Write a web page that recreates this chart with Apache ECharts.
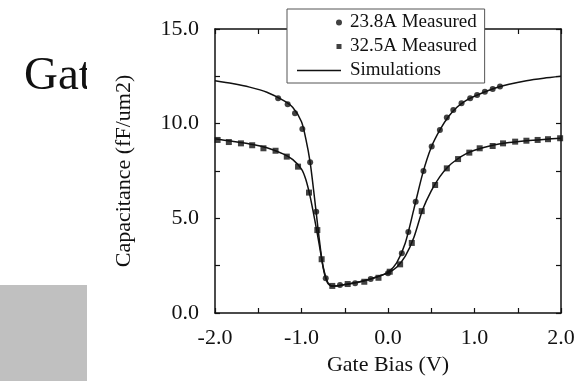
<!DOCTYPE html>
<html>
<head>
<meta charset="utf-8">
<script src="https://cdn.jsdelivr.net/npm/echarts@6/dist/echarts.min.js"></script>
<style>
  html, body { margin: 0; padding: 0; background: #fff; }
  #chart { width: 583px; height: 381px; }
</style>
</head>
<body>
<div id="chart"></div>
<script>
// measured points, 23.8A oxide (circles)
const thinBias = [-1.27, -1.16, -1.075, -0.99, -0.90, -0.83, -0.72, -0.555, -0.38, -0.2, 0.0, 0.16, 0.235, 0.32, 0.41, 0.505, 0.60, 0.68, 0.755, 0.85, 0.95, 1.03, 1.12, 1.21, 1.295];
const thinCap = [11.34, 11.02, 10.55, 9.72, 7.96, 5.35, 1.83, 1.48, 1.57, 1.80, 2.10, 3.15, 4.28, 5.88, 7.50, 8.79, 9.67, 10.32, 10.72, 11.08, 11.34, 11.52, 11.69, 11.83, 11.96];

// measured points, 32.5A oxide (squares)
const thickBias = [-1.97, -1.84, -1.70, -1.57, -1.44, -1.30, -1.17, -1.04, -0.913, -0.817, -0.767, -0.644, -0.466, -0.274, -0.11, 0.02, 0.14, 0.275, 0.39, 0.545, 0.68, 0.81, 0.94, 1.06, 1.21, 1.33, 1.47, 1.60, 1.73, 1.85, 1.99];
const thickCap = [9.14, 9.03, 8.96, 8.86, 8.70, 8.57, 8.26, 7.73, 6.36, 4.38, 2.84, 1.43, 1.53, 1.65, 1.86, 2.18, 2.57, 3.70, 5.38, 6.76, 7.64, 8.13, 8.47, 8.70, 8.82, 8.96, 9.05, 9.10, 9.14, 9.18, 9.23];

// simulated curves
const simBias = [-2.0, -1.8, -1.6, -1.4, -1.2, -1.1, -1.0, -0.95, -0.9, -0.85, -0.8, -0.75, -0.7, -0.65, -0.6, -0.5, -0.4, -0.3, -0.2, -0.1, 0.0, 0.1, 0.2, 0.3, 0.4, 0.5, 0.6, 0.7, 0.8, 0.9, 1.0, 1.2, 1.4, 1.6, 1.8, 2.0];
const simThin = [12.27, 12.12, 11.93, 11.66, 11.2, 10.85, 10.1, 9.2, 7.96, 6.1, 4.1, 2.4, 1.6, 1.42, 1.42, 1.5, 1.58, 1.68, 1.8, 1.95, 2.15, 2.65, 3.7, 5.5, 7.35, 8.75, 9.67, 10.38, 10.88, 11.22, 11.45, 11.82, 12.08, 12.27, 12.4, 12.5];
const simThick = [9.2, 9.07, 8.93, 8.73, 8.38, 8.1, 7.6, 7.05, 6.15, 5.0, 3.75, 2.45, 1.65, 1.42, 1.42, 1.5, 1.58, 1.68, 1.8, 1.95, 2.12, 2.42, 3.0, 4.0, 5.45, 6.45, 7.2, 7.75, 8.12, 8.4, 8.6, 8.85, 9.0, 9.1, 9.17, 9.23];

const legendNames = ['23.8A Measured', '32.5A Measured', 'Simulations'];

const FONT = 'Liberation Serif';
const INK = '#111';

function zip(xs, ys) {
    let out = [];
    for (let i = 0; i < xs.length; i++) out.push([xs[i], ys[i]]);
    return out;
}

function isMultiple(v, step) {
    return Math.abs(v / step - Math.round(v / step)) < 1e-6;
}

const axisCommon = {
    axisLine: { show: true, onZero: false, lineStyle: { color: INK, width: 1.5 } },
    axisTick: { show: true, inside: true, length: 5, lineStyle: { color: INK, width: 1.2 } },
    splitLine: { show: false }
};

const chart = echarts.init(document.getElementById('chart'), null, { renderer: 'canvas' });

let option = {
    animation: false,
    backgroundColor: '#fff',
    textStyle: { fontFamily: FONT, color: INK },
    grid: { left: 215, right: 22, top: 29, bottom: 68 },
    legend: {
        orient: 'vertical',
        left: 287,
        top: 9,
        padding: [4, 8, 3, 10],
        itemGap: 5,
        itemWidth: 48,
        itemHeight: 6,
        selectedMode: false,
        backgroundColor: '#fff',
        borderColor: '#555',
        borderWidth: 1,
        textStyle: { fontFamily: FONT, fontSize: 19, color: INK },
        data: [
            { name: legendNames[0], icon: 'path://M0,3L0.01,3M39,3a3,3 0 1,0 6,0a3,3 0 1,0 -6,0zM47.99,3L48,3' },
            { name: legendNames[1], icon: 'path://M0,3L0.01,3M39.5,0.5h5v5h-5zM47.99,3L48,3' },
            { name: legendNames[2], icon: 'path://M0,0L0.01,0M0,2.3h44v1.4h-44zM47.99,6L48,6' }
        ]
    },
    xAxis: [
        Object.assign({
            type: 'value', position: 'bottom', min: -2, max: 2, interval: 0.5,
            name: 'Gate Bias (V)', nameLocation: 'middle', nameGap: 40,
            nameTextStyle: { fontFamily: FONT, fontSize: 22, color: INK },
            axisLabel: {
                margin: 14, fontFamily: FONT, fontSize: 22, color: INK,
                formatter: v => isMultiple(v, 1) ? v.toFixed(1) : ''
            }
        }, axisCommon),
        Object.assign({
            type: 'value', position: 'top', min: -2, max: 2, interval: 0.5,
            axisLabel: { show: false }
        }, axisCommon)
    ],
    yAxis: [
        Object.assign({
            type: 'value', position: 'left', min: 0, max: 15, interval: 2.5,
            name: 'Capacitance (fF/um2)', nameLocation: 'middle', nameGap: 80,
            nameTextStyle: { fontFamily: FONT, fontSize: 22, color: INK },
            axisLabel: {
                margin: 16, fontFamily: FONT, fontSize: 22, color: INK,
                formatter: v => isMultiple(v, 5) ? v.toFixed(1) : ''
            }
        }, axisCommon),
        Object.assign({
            type: 'value', position: 'right', min: 0, max: 15, interval: 2.5,
            axisLabel: { show: false }
        }, axisCommon)
    ],
    graphic: [
        { type: 'rect', left: 0, top: 285, shape: { width: 87, height: 96 }, style: { fill: '#c0c0c0' }, silent: true },
        { type: 'text', x: 24, y: 77, style: { text: 'Gat', fontFamily: FONT, fontSize: 47, fill: INK, verticalAlign: 'middle' }, silent: true },
        { type: 'rect', left: 87, top: 40, shape: { width: 16, height: 70 }, style: { fill: '#fff' }, silent: true }
    ],
    series: [
        {
            name: legendNames[2], type: 'line', data: zip(simBias, simThin),
            smooth: 0.25, symbol: 'none', lineStyle: { color: INK, width: 1.5 }, itemStyle: { color: INK }, z: 2
        },
        {
            name: legendNames[2], type: 'line', data: zip(simBias, simThick),
            smooth: 0.25, symbol: 'none', lineStyle: { color: INK, width: 1.5 }, itemStyle: { color: INK }, z: 2
        },
        {
            name: legendNames[0], type: 'scatter', data: zip(thinBias, thinCap),
            symbol: 'circle', symbolSize: 6, itemStyle: { color: INK }, z: 3
        },
        {
            name: legendNames[1], type: 'scatter', data: zip(thickBias, thickCap),
            symbol: 'rect', symbolSize: 6, itemStyle: { color: INK }, z: 3
        }
    ]
};

chart.setOption(option);
</script>
</body>
</html>
